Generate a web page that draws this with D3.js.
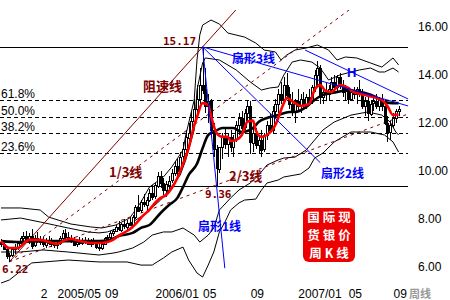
<!DOCTYPE html>
<html lang="zh">
<head>
<meta charset="utf-8">
<title>国际现货银价周K线</title>
<script src="https://cdn.jsdelivr.net/npm/d3@7"></script>
<style>
  body { margin: 0; background: #fff; }
  svg { display: block; }
  text { font-family: "Liberation Sans", Arial, sans-serif; }
  .cn { font-family: "Noto Sans CJK SC", sans-serif; font-weight: bold; }
  .num { font-family: "DejaVu Sans Mono", monospace; font-weight: bold; }
</style>
</head>
<body>
<script>

// weekly candles, week 0 = end of 2004
var open  = [7.05,6.95,6.75,6.45,6.5,6.75,6.85,7.0,7.2,7.3, 7.15,7.3,6.9,7.2,7.1,7.05,6.95,7.1,7.0,6.95,
             6.9,7.0,7.2,7.4,7.25,7.15,7.1,6.95,7.05,7.0, 7.1,7.05,6.95,7.05,7.0,6.85,6.8,6.95,7.2,7.25,
             7.4,7.5,7.65,7.55,7.8,7.7,7.85,7.75,8.1,8.5, 8.35,8.7,8.6,8.8,9.1,8.95,9.4,9.8,9.5,9.2,
             9.45,9.6,9.9,10.2,10.0,10.6,10.9,11.4,11.6,12.1, 12.6,13.0,13.6,13.4,12.7,12.9,11.7,10.9,10.1,11.0,
             11.4,11.1,11.4,11.0,11.3,11.9,12.2,11.8,12.4,12.7, 11.2,11.6,11.1,11.3,10.9,11.5,11.9,11.7,12.5,12.8,
             13.2,13.0,13.6,13.2,12.8,12.5,12.9,12.7,13.0,12.8, 13.1,12.9,13.5,14.0,14.3,13.1,13.3,13.2,13.4,13.7,
             13.5,13.9,13.6,13.3,13.4,13.0,13.3,13.2,13.4,13.2, 12.7,12.9,12.4,12.8,12.9,12.7,13.0,12.7,12.0,11.6,
             11.9,12.2,12.5];
var high  = [7.15,7.0,6.8,6.6,6.85,6.95,7.1,7.3,7.45,7.5, 7.4,7.6,7.35,7.45,7.3,7.25,7.2,7.3,7.2,7.1,
             7.1,7.3,7.55,7.6,7.45,7.35,7.25,7.15,7.25,7.2, 7.25,7.2,7.15,7.2,7.1,7.0,7.05,7.25,7.35,7.5,
             7.6,7.75,7.9,7.85,8.0,7.95,8.1,8.15,8.6,9.0, 8.8,9.05,8.9,9.25,9.4,9.5,9.95,10.0,9.7,9.6,
             9.8,10.1,10.4,10.5,10.8,11.2,11.7,12.0,12.5,13.0, 13.6,14.3,15.17,14.3,13.2,13.0,12.0,11.1,11.0,11.6,
             11.8,11.6,11.7,11.5,12.1,12.4,12.5,12.6,12.95,12.9, 12.0,11.8,11.5,11.7,11.6,12.1,12.4,12.7,13.0,13.4,
             13.7,13.9,14.1,13.5,13.3,13.0,13.4,13.2,13.3,13.2, 13.4,13.6,14.2,14.6,14.4,13.5,13.7,13.6,13.9,14.0,
             14.0,14.1,13.8,13.6,13.5,13.4,13.5,13.5,13.8,13.4, 13.1,13.2,12.9,13.1,13.2,13.1,13.2,12.9,12.3,12.1,
             12.4,12.6,12.7];
var low   = [6.85,6.7,6.35,6.22,6.4,6.55,6.7,6.9,7.0,7.05, 6.95,6.75,6.85,7.0,6.9,6.85,6.8,6.9,6.85,6.8,
             6.75,6.9,7.1,7.15,7.05,7.0,6.9,6.85,6.9,6.9, 6.95,6.9,6.85,6.9,6.75,6.65,6.7,6.9,7.05,7.15,
             7.3,7.45,7.5,7.45,7.6,7.55,7.7,7.7,8.0,8.3, 8.25,8.5,8.3,8.7,8.8,8.85,9.3,9.3,9.0,8.9,
             9.2,9.5,9.8,9.8,9.95,10.4,10.7,11.0,11.4,11.8, 12.3,12.8,13.2,12.4,12.0,11.4,10.6,9.36,9.9,10.5,
             10.9,10.6,10.8,10.6,11.2,11.5,11.6,11.7,12.1,10.7, 10.8,10.9,10.7,10.6,10.8,11.3,11.6,11.6,12.2,12.4,
             12.8,12.9,13.0,12.6,12.3,12.0,12.5,12.4,12.6,12.6, 12.7,12.8,13.3,13.6,12.8,12.8,12.9,12.9,13.2,13.3,
             13.3,13.4,13.1,12.9,12.8,12.9,13.0,12.8,13.1,12.6, 12.3,12.1,12.3,12.5,12.6,12.5,12.5,11.9,11.2,11.3,
             11.8,12.0,12.3];
var close = [6.95,6.75,6.45,6.5,6.75,6.85,7.0,7.2,7.3,7.15, 7.3,6.9,7.2,7.1,7.05,6.95,7.1,7.0,6.95,6.9,
             7.0,7.2,7.4,7.25,7.15,7.1,6.95,7.05,7.0,7.1, 7.05,6.95,7.05,7.0,6.85,6.8,6.95,7.2,7.25,7.4,
             7.5,7.65,7.55,7.8,7.7,7.85,7.75,8.1,8.5,8.35, 8.7,8.6,8.8,9.1,8.95,9.4,9.8,9.5,9.2,9.45,
             9.6,9.9,10.2,10.0,10.6,10.9,11.4,11.6,12.1,12.6, 13.0,13.6,13.4,12.7,12.9,11.7,10.9,10.1,11.0,11.4,
             11.1,11.4,11.0,11.3,11.9,12.2,11.8,12.4,12.7,11.2, 11.6,11.1,11.3,10.9,11.5,11.9,11.7,12.5,12.8,13.2,
             13.0,13.6,13.2,12.8,12.5,12.9,12.7,13.0,12.8,13.1, 12.9,13.5,14.0,14.3,13.1,13.3,13.2,13.4,13.7,13.5,
             13.9,13.6,13.3,13.4,13.0,13.3,13.2,13.4,13.2,12.7, 12.9,12.4,12.8,12.9,12.7,13.0,12.7,12.0,11.6,11.9,
             12.2,12.5,12.6];

// moving averages and bands, [week, price]
var maRed = [[0,7.08],[3,6.79],[6,6.79],[8,6.96],[10,7.13],[14,7.13],[17,7.04],[20,6.96],[23,7.13],[25,7.17],
             [28,7.08],[32,7.0],[35,7.0],[38,7.04],[40,7.13],[42,7.3],[45,7.5],[47,7.67],[51,8.17],[53,8.38],
             [55,8.67],[57,8.88],[59,9.0],[61,9.29],[63,9.71],[65,10.3],[67,10.95],[69,11.9],[70,12.25],[72,12.83],
             [74,12.75],[75,12.3],[77,11.58],[79,11.42],[81,11.42],[82,11.25],[84,11.29],[86,11.5],[88,12.05],[90,12.1],
             [91,11.7],[93,11.42],[95,11.5],[98,11.92],[101,12.83],[102,13.04],[105,12.83],[107,12.71],[110,12.79],[112,13.38],
             [114,13.58],[116,13.33],[118,13.29],[121,13.58],[124,13.46],[126,13.29],[130,13.17],[133,13.08],[136,12.96],[138,12.71],
             [140,12.33],[142,12.35]];
var maBlack = [[0,7.08],[7,7.04],[14,7.08],[21,7.08],[28,7.08],[35,7.08],[39,7.13],[42,7.29],[47,7.42],[50,7.63],
               [53,7.75],[57,8.25],[60,8.58],[63,8.88],[65,9.33],[67,9.83],[70,10.3],[72,10.95],[74,11.5],[76,11.62],
               [79,11.79],[83,11.79],[86,11.62],[90,11.79],[92,12.04],[95,12.21],[99,12.33],[103,12.46],[105,12.46],[109,12.67],
               [111,12.87],[115,13.17],[118,13.25],[120,13.29],[124,13.37],[128,13.29],[130,13.25],[134,13.08],[137,12.87],[140,12.83],
               [142,12.83]];
var bandUpOuter = [[0,8.46],[7,8.46],[14,8.375],[17,8.08],[25,7.79],[32,7.67],[36,7.625],[41,7.75],[46,8.04],[50,8.71],
                   [53,9.33],[58,9.75],[61,10.17],[65,10.875],[66,11.5],[69,12.96],[70,14.625],[71,15.67],[72,16.08],[75,16.29],
                   [78,16.125],[81,15.75],[87,15.58],[91,15.33],[94,15.04],[98,14.96],[100,14.625],[102,14.83],[105,15.04],[109,15.125],
                   [113,15.25],[117,15.04],[120,14.625],[123,14.75],[127,14.71],[132,14.5],[136,14.33],[140,14.71],[142,14.42]];
var bandUpInner = [[0,7.96],[7,8.04],[14,7.875],[19,7.75],[24,7.625],[31,7.46],[35,7.42],[38,7.46],[42,7.625],[47,7.875],
                   [51,8.17],[53,8.375],[57,8.79],[60,9.21],[64,9.83],[66,10.46],[69,11.71],[70,13.375],[72,14.5],[73,14.71],
                   [78,14.625],[84,14.21],[89,13.71],[93,13.375],[96,13.46],[99,13.5],[101,14.0],[104,14.54],[107,14.625],[111,14.54],
                   [114,14.29],[117,13.79],[121,14.0],[125,14.125],[128,14.21],[132,14.29],[135,14.125],[137,14.125],[140,14.29],[142,14.125]];
var bandLowInner = [[0,6.625],[7,6.625],[15,6.71],[24,6.625],[35,6.5],[40,6.58],[42,6.625],[47,6.79],[51,7.04],[54,7.33],
                    [58,7.46],[61,7.46],[65,7.625],[69,7.33],[71,7.04],[74,7.33],[76,7.625],[78,8.375],[82,8.875],[85,9.21],
                    [89,9.5],[92,9.83],[95,10.25],[99,10.46],[101,10.54],[105,10.58],[109,10.875],[112,11.29],[115,11.71],[119,12.04],
                    [125,12.33],[131,12.46],[136,12.33],[139,12.04],[141,11.625],[142,11.5]];
var bandLowOuter = [[0,5.33],[3,5.46],[7,5.83],[11,6.17],[24,6.29],[35,6.21],[45,6.21],[50,6.08],[54,6.08],[58,6.375],
                    [61,6.625],[65,6.83],[67,6.29],[70,5.75],[72,5.58],[74,6.08],[76,6.625],[78,7.46],[80,7.875],[82,8.375],
                    [85,8.67],[87,8.79],[91,8.83],[93,9.2],[95,9.5],[99,9.625],[101,9.75],[107,9.875],[110,10.125],[112,10.54],
                    [115,10.75],[119,11.21],[125,11.625],[132,11.625],[137,11.5],[140,11.21],[142,10.79]];

// turning points used by the drawn tools
var lowWeek = 3,   lowPrice = 6.22;
var peakWeek = 72, peakPrice = 15.17;
var low2Week = 77, low2Price = 9.36;
var speedRatios = [1, 2/3, 1/3];
var fibRatios = [0.618, 0.5, 0.382, 0.236];
var fibLabels = ["61.8%", "50.0%", "38.2%", "23.6%"];
var fan2End = [114, 10.35];
var fan3End = [145.4, 12.71];
var hLine = [[108.6, 15.04], [145.4, 13.0]];

// axis labels
var tickWeeks = [14, 20, 37, 55, 72, 89, 106, 124, 140];
var tickText  = ["2", "2005/05", "09", "2006/01", "05", "09", "2007/01", "05", "09"];
var priceTicks = [6, 8, 10, 12, 14, 16];
var stampLines = ["国际现", "货银价", "周K线"];

var w = 450, h = 300;
var plotRight = 408;

var x = d3.scaleLinear().domain([0, 142]).range([1, 398.6]);
var y = d3.scaleLinear().domain([6, 16]).range([267, 27]);
var endWeek = x.invert(plotRight);
var px = function(v) { return Math.round(y(v)) + 0.5; };

var svg = d3.select("body").append("svg")
  .attr("width", w)
  .attr("height", h);

svg.append("defs").append("clipPath").attr("id", "clip")
  .append("rect").attr("x", 0).attr("y", 10).attr("width", plotRight + 1).attr("height", 276);

var plot = svg.append("g").attr("clip-path", "url(#clip)");

//fibonacci levels between the 9.36 low and the 15.17 top
fibRatios.forEach(function(r, k) {
  var v = low2Price + r * (peakPrice - low2Price);
  plot.append("line")
    .attr("x1", 0).attr("x2", plotRight)
    .attr("y1", px(v)).attr("y2", px(v))
    .attr("stroke", "#000").attr("stroke-dasharray", "4,3")
    .attr("shape-rendering", "crispEdges");
  svg.append("text")
    .attr("x", 1).attr("y", px(v) - 3)
    .attr("font-size", "12px").attr("fill", "#000")
    .text(fibLabels[k]);
});

//top and bottom horizontals
[peakPrice, low2Price].forEach(function(v) {
  plot.append("line")
    .attr("x1", 0).attr("x2", plotRight)
    .attr("y1", px(v)).attr("y2", px(v))
    .attr("stroke", "#000").attr("stroke-width", 1.2)
    .attr("shape-rendering", "crispEdges");
});

var line = d3.line().x(function(d) { return x(d[0]); }).y(function(d) { return y(d[1]); });
var smooth = d3.line().x(function(d) { return x(d[0]); }).y(function(d) { return y(d[1]); }).curve(d3.curveMonotoneX);

//bands
[bandUpOuter, bandUpInner, bandLowInner, bandLowOuter].forEach(function(b) {
  plot.append("path").attr("d", line(b))
    .attr("fill", "none").attr("stroke", "#000").attr("stroke-width", 1);
});

//speed resistance lines from the 6.22 low
speedRatios.forEach(function(r, k) {
  var target = lowPrice + r * (peakPrice - lowPrice);
  var slope = (target - lowPrice) / (peakWeek - lowWeek);
  var pts = [[lowWeek, lowPrice], [endWeek, lowPrice + slope * (endWeek - lowWeek)]];
  plot.append("path").attr("d", line(pts))
    .attr("fill", "none").attr("stroke", "#800000").attr("stroke-width", 1)
    .attr("stroke-dasharray", k == 0 ? null : "3,4");
});

//candles
var idx = d3.range(open.length);
plot.selectAll("line.wick")
  .data(idx).enter().append("line")
  .attr("class", "wick")
  .attr("x1", function(i) { return Math.round(x(i)) + 0.5; })
  .attr("x2", function(i) { return Math.round(x(i)) + 0.5; })
  .attr("y1", function(i) { return y(high[i]); })
  .attr("y2", function(i) { return y(low[i]); })
  .attr("stroke", "#000").attr("shape-rendering", "crispEdges");

plot.selectAll("rect.body")
  .data(idx).enter().append("rect")
  .attr("class", "body")
  .attr("x", function(i) { return Math.round(x(i)) - 0.5; })
  .attr("y", function(i) { return Math.round(y(Math.max(open[i], close[i]))) + 0.5; })
  .attr("width", 2)
  .attr("height", function(i) { return Math.max(1, Math.round(Math.abs(y(open[i]) - y(close[i])))); })
  .attr("fill", function(i) { return close[i] >= open[i] ? "#fff" : "#000"; })
  .attr("stroke", "#000")
  .attr("shape-rendering", "crispEdges");

//moving averages
plot.append("path").attr("d", smooth(maBlack))
  .attr("fill", "none").attr("stroke", "#000").attr("stroke-width", 2.6);
plot.append("path").attr("d", smooth(maRed))
  .attr("fill", "none").attr("stroke", "#ff0000").attr("stroke-width", 2.6);

//fan lines from the top
var fan1Slope = (low2Price - peakPrice) / (low2Week - peakWeek);
var fan1 = [[peakWeek, peakPrice], [peakWeek + (5.95 - peakPrice) / fan1Slope, 5.95]];
[fan1, [[peakWeek, peakPrice], fan2End], [[peakWeek, peakPrice], fan3End], hLine].forEach(function(f) {
  plot.append("path").attr("d", line(f))
    .attr("fill", "none").attr("stroke", "#0000ff").attr("stroke-width", 1);
});

//annotations
var notes = [
  {t: "15.17", x: 163, y: 45, c: "#800000", cls: "num", s: 11},
  {t: "9.36",  x: 205, y: 198, c: "#800000", cls: "num", s: 11},
  {t: "6.22",  x: 2,   y: 273, c: "#800000", cls: "num", s: 11},
  {t: "阻速线", x: 143, y: 91, c: "#800000", cls: "cn", s: 13},
  {t: "1/3线", x: 109, y: 177, c: "#800000", cls: "cn", s: 13},
  {t: "2/3线", x: 229, y: 181, c: "#800000", cls: "cn", s: 13},
  {t: "扇形3线", x: 232, y: 63, c: "#0000ff", cls: "cn", s: 12},
  {t: "扇形2线", x: 321, y: 178, c: "#0000ff", cls: "cn", s: 12},
  {t: "扇形1线", x: 198, y: 231, c: "#0000ff", cls: "cn", s: 12}
];
svg.selectAll("text.note")
  .data(notes).enter().append("text")
  .attr("class", function(d) { return "note " + d.cls; })
  .attr("x", function(d) { return d.x; })
  .attr("y", function(d) { return d.y; })
  .attr("fill", function(d) { return d.c; })
  .attr("font-size", function(d) { return d.s + "px"; })
  .text(function(d) { return d.t; });

svg.append("text")
  .attr("x", 347).attr("y", 77)
  .attr("font-family", "Liberation Serif").attr("font-weight", "bold")
  .attr("font-size", "13px").attr("fill", "#0000ff")
  .text("H");

//title stamp
svg.append("rect")
  .attr("x", 303).attr("y", 208).attr("width", 52).attr("height", 54)
  .attr("rx", 6).attr("fill", "#ee0000");
stampLines.forEach(function(s, k) {
  svg.append("text")
    .attr("class", "cn")
    .attr("x", 330.5).attr("y", 222 + k * 18)
    .attr("text-anchor", "middle")
    .attr("font-size", "12.5px").attr("letter-spacing", "3px").attr("fill", "#fff")
    .text(s);
});

//axes
var xAxis = d3.axisBottom(x)
  .tickValues(tickWeeks)
  .tickFormat(function(d, i) { return tickText[i]; })
  .tickSize(0);
var gx = svg.append("g")
  .attr("transform", "translate(0,298)")
  .call(xAxis);
gx.select(".domain").remove();
gx.selectAll("text")
  .attr("y", 0).attr("dy", 0)
  .attr("text-anchor", "start")
  .attr("font-family", "Liberation Sans").attr("font-size", "12px").attr("fill", "#000");

svg.append("text")
  .attr("class", "cn")
  .attr("x", 409).attr("y", 298)
  .attr("font-size", "11px").attr("font-weight", "normal").attr("fill", "#999")
  .text("周线");

var yAxis = d3.axisRight(y)
  .tickValues(priceTicks)
  .tickFormat(d3.format(".2f"))
  .tickSize(0).tickPadding(0);
var gy = svg.append("g")
  .attr("transform", "translate(418,0)")
  .call(yAxis);
gy.select(".domain").remove();
gy.selectAll("text")
  .attr("font-family", "Liberation Sans").attr("font-size", "12px").attr("fill", "#000");

</script>
</body>
</html>
